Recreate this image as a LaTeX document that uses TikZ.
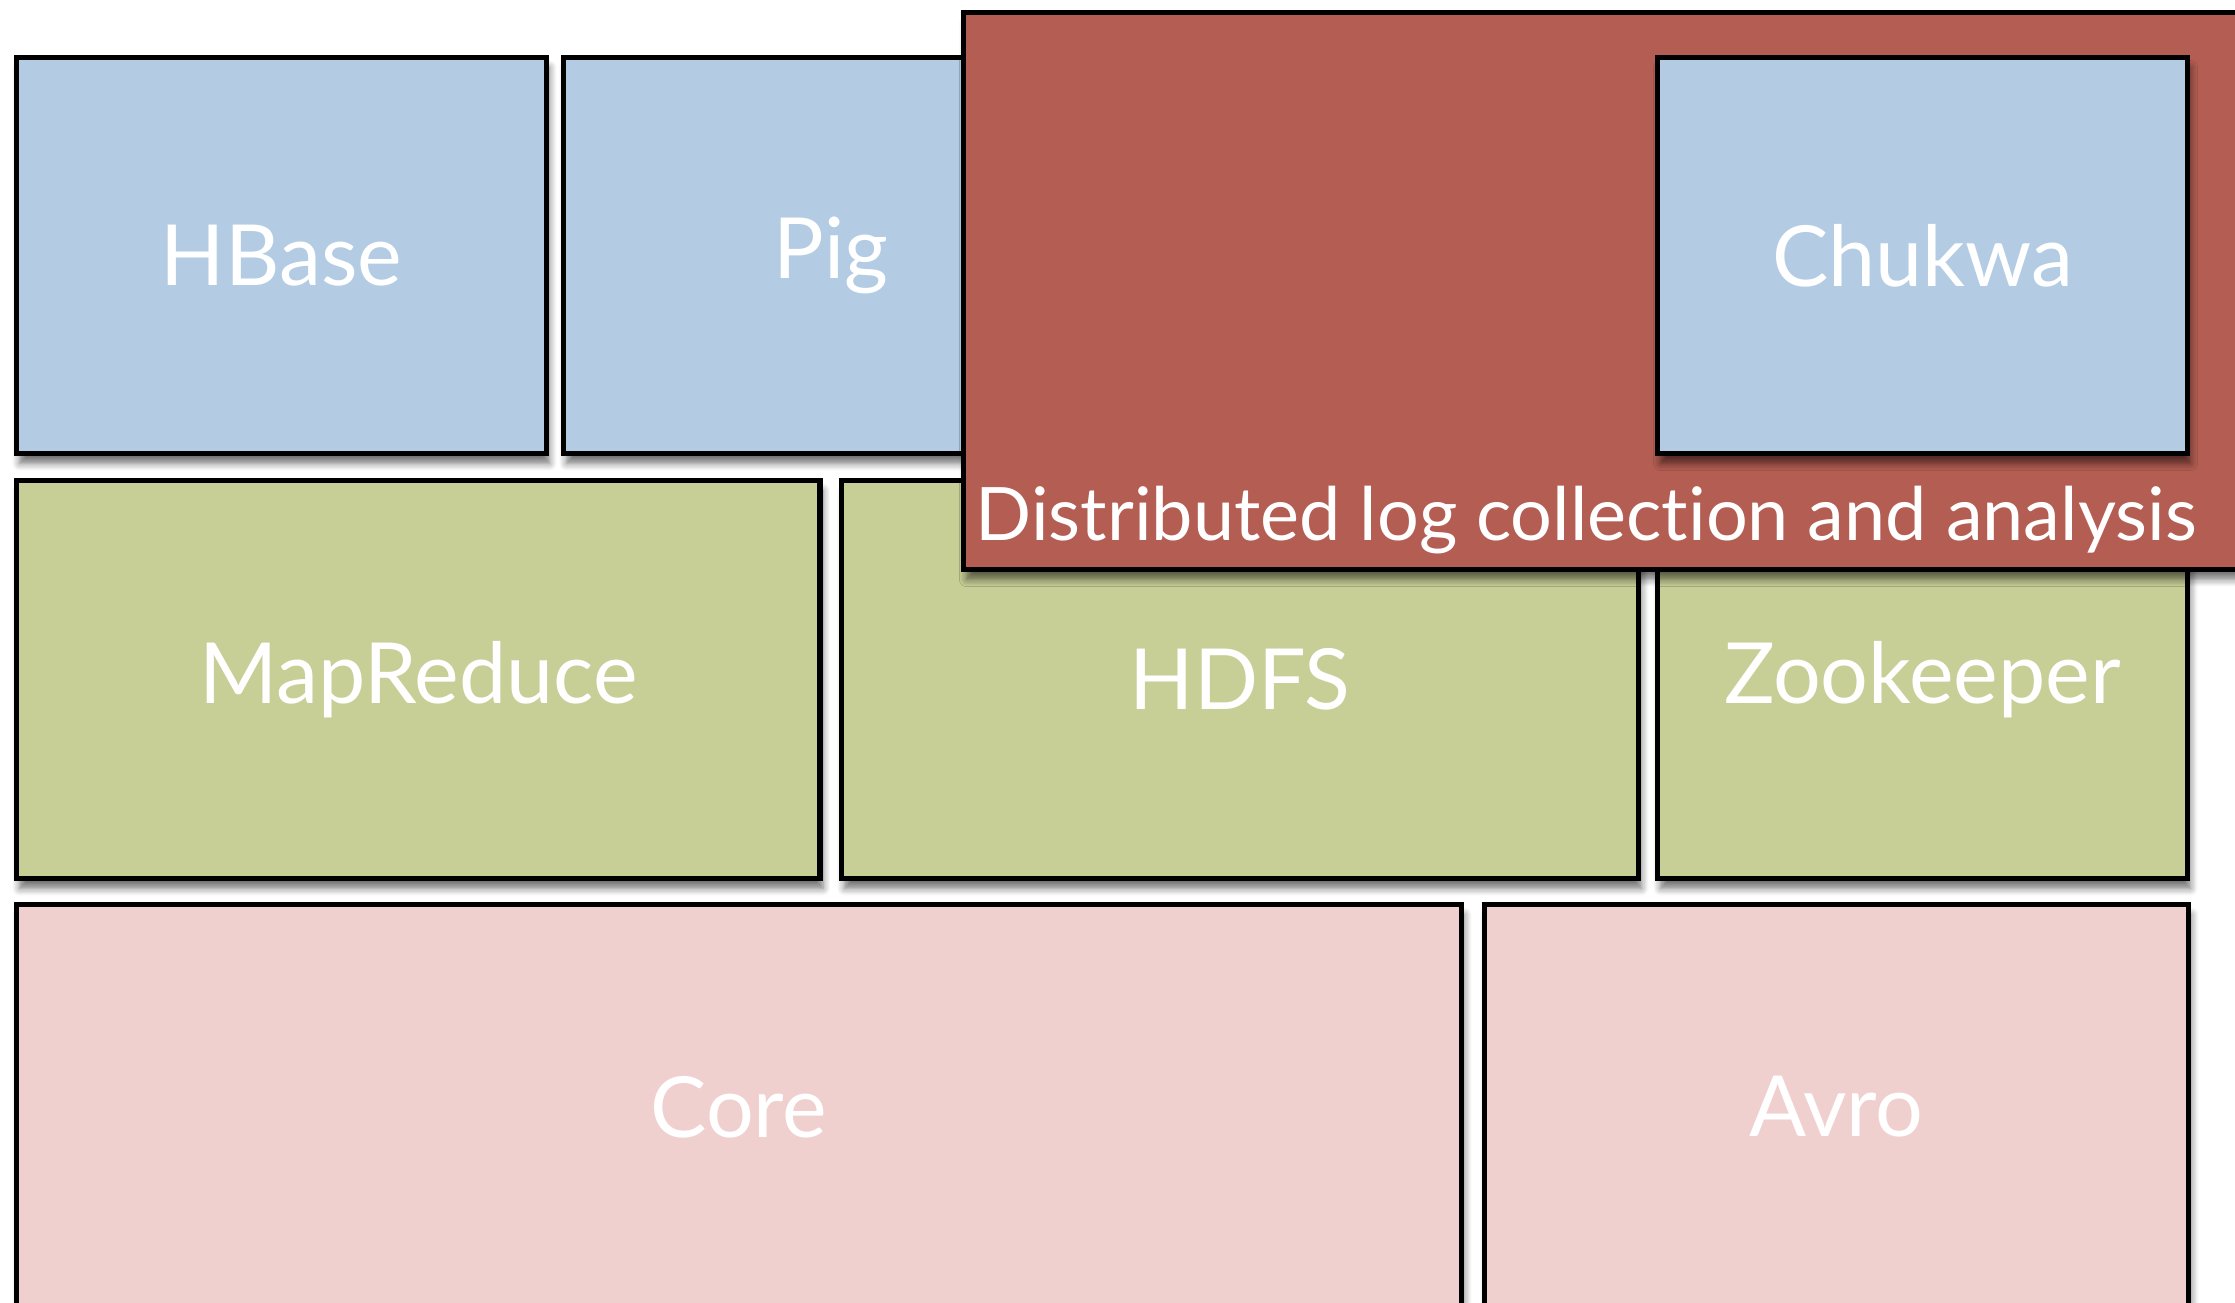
\documentclass[tikz,border=0pt]{standalone}
\usepackage{fontspec}
\setmainfont{Lato}[Ligatures=CommonOff]
\usetikzlibrary{shadows.blur}

\definecolor{layerblue}{RGB}{179,204,227}
\definecolor{layergreen}{RGB}{200,207,150}
\definecolor{layerpink}{RGB}{239,208,207}
\definecolor{chukwared}{RGB}{180,93,82}

\tikzset{
  layer/.style={draw=black, line width=0.055cm, anchor=north west, inner sep=0pt, outer sep=0pt,
    text=white, font=\fontsize{24}{28}\selectfont,
    blur shadow={shadow xshift=0.03cm, shadow yshift=-0.1cm, shadow opacity=55, shadow blur steps=6}},
  blue layer/.style={layer, fill=layerblue},
  green layer/.style={layer, fill=layergreen},
  pink layer/.style={layer, fill=layerpink},
}

\begin{document}
\begin{tikzpicture}
    \useasboundingbox (0,0) rectangle (22.35,-13.02);
    \clip (0,0) rectangle (22.35,-13.02);
    % top row
    \node[blue layer, minimum width=5.30cm, minimum height=3.96cm] (hbase) at (0.165,-0.575) {HBase};
    \node[blue layer, minimum width=5.35cm, minimum height=3.96cm] (pig) at (5.635,-0.575) {Pig};
    % middle row
    \node[green layer, minimum width=8.035cm, minimum height=3.98cm] (mapreduce) at (0.165,-4.805) {MapReduce};
    \node[green layer, minimum width=7.97cm, minimum height=3.98cm] (hdfs) at (8.415,-4.805) {HDFS};
    \node[green layer, minimum width=5.30cm, minimum height=3.98cm] (zookeeper) at (16.575,-4.805) {Zookeeper};
    % bottom row
    \node[pink layer, minimum width=14.45cm, minimum height=4.05cm] (core) at (0.165,-9.045) {Core};
    \node[pink layer, minimum width=7.04cm, minimum height=4.05cm] (avro) at (14.845,-9.045) {Avro};
    % chukwa overlay
    \node[layer, fill=chukwared, minimum width=13cm, minimum height=5.57cm] (logbox) at (9.635,-0.125) {};
    \node[anchor=base west, inner sep=0pt, text=white, font=\fontsize{21}{25}\selectfont] (logtext) at (9.75,-5.40) {Distributed log collection and analysis};
    \node[blue layer, minimum width=5.30cm, minimum height=3.96cm] (chukwa) at (16.575,-0.575) {Chukwa};
\end{tikzpicture}
\end{document}
